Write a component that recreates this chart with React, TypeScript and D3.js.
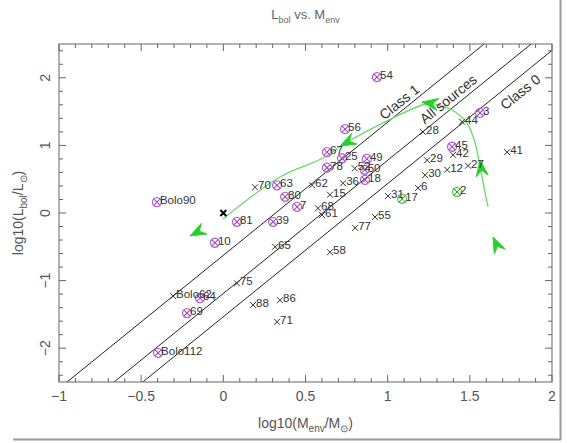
import React, { useEffect, useRef } from 'react';
import * as d3 from 'd3';

// sources plotted as plain crosses
const crossPoints = [
  { label: '44', x: 1.453, y: 1.35 },
  { label: '28', x: 1.215, y: 1.2 },
  { label: '42', x: 1.398, y: 0.86 },
  { label: '29', x: 1.24, y: 0.78 },
  { label: '41', x: 1.727, y: 0.9 },
  { label: '27', x: 1.489, y: 0.7 },
  { label: '12', x: 1.362, y: 0.64 },
  { label: '30', x: 1.228, y: 0.56 },
  { label: '6', x: 1.185, y: 0.37 },
  { label: '31', x: 1.002, y: 0.25 },
  { label: '62', x: 0.54, y: 0.41 },
  { label: '36', x: 0.729, y: 0.44 },
  { label: '52', x: 0.8, y: 0.66 },
  { label: '15', x: 0.649, y: 0.27 },
  { label: '68', x: 0.576, y: 0.07 },
  { label: '61', x: 0.601, y: -0.03 },
  { label: '55', x: 0.923, y: -0.06 },
  { label: '77', x: 0.802, y: -0.22 },
  { label: '58', x: 0.649, y: -0.58 },
  { label: '70', x: 0.193, y: 0.38 },
  { label: '65', x: 0.315, y: -0.5 },
  { label: '75', x: 0.083, y: -1.04 },
  { label: 'Bolo62', x: -0.306, y: -1.23 },
  { label: '88', x: 0.181, y: -1.36 },
  { label: '86', x: 0.345, y: -1.29 },
  { label: '71', x: 0.327, y: -1.61 },
];

// sources with a circled cross (purple)
const purplePoints = [
  { label: '54', x: 0.935, y: 2.01 },
  { label: '56', x: 0.741, y: 1.24 },
  { label: '67', x: 0.631, y: 0.9 },
  { label: '25', x: 0.722, y: 0.81 },
  { label: '49', x: 0.874, y: 0.8 },
  { label: '78', x: 0.631, y: 0.67 },
  { label: '50', x: 0.86, y: 0.64 },
  { label: '18', x: 0.862, y: 0.49 },
  { label: '80', x: 0.376, y: 0.24 },
  { label: '7', x: 0.449, y: 0.09 },
  { label: '63', x: 0.327, y: 0.41 },
  { label: '39', x: 0.303, y: -0.13 },
  { label: '81', x: 0.083, y: -0.13 },
  { label: '10', x: -0.051, y: -0.44 },
  { label: 'Bolo90', x: -0.404, y: 0.16 },
  { label: '64', x: -0.142, y: -1.26 },
  { label: '69', x: -0.221, y: -1.48 },
  { label: 'Bolo112', x: -0.397, y: -2.07 },
  { label: '3', x: 1.562, y: 1.48 },
  { label: '45', x: 1.392, y: 0.98 },
];

// sources with a green circled cross
const greenPoints = [
  { label: '2', x: 1.422, y: 0.31 },
  { label: '17', x: 1.088, y: 0.21 },
];

const sunPoint = [{ x: 0, y: 0 }];

// fitted relations: log L = slope * log M + intercept
const lineSlope = 1.97;
const lineIntercepts = [-0.626, -1.19, -1.535];
const lineNames = ['Class 1', 'All sources', 'Class 0'];
const lineLabelX = [1.075, 1.374, 1.812];
const lineLabelY = [1.627, 1.672, 1.775];

// evolutionary track (green)
const trackX = [1.611, 1.593, 1.562, 1.532, 1.483, 1.392, 1.301, 1.258, 0.753, 0.607, 0.345, -0.002];
const trackY = [0.089, 0.296, 0.68, 1.036, 1.331, 1.524, 1.598, 1.627, 1.05, 0.814, 0.533, -0.089];

// arrow heads: tip and the point they come from
const arrowTipX = [-0.203, 0.71, 1.209, 1.562, 1.641];
const arrowTipY = [-0.34, 0.99, 1.642, 0.784, -0.355];
const arrowFromX = [-0.002, 0.83, 1.32, 1.575, 1.684];
const arrowFromY = [-0.089, 1.14, 1.6, 0.56, -0.58];

const xTicks = [-1, -0.5, 0, 0.5, 1, 1.5, 2];
const yTicks = [-2, -1, 0, 1, 2];

const FONT = "'Liberation Sans', Arial, Helvetica, sans-serif";

const App = () => {
  const svgRef = useRef<SVGSVGElement>(null);

  useEffect(() => {
    const svg = d3.select(svgRef.current);
    svg.selectAll('*').remove();

    const left = 59, right = 552, top = 44, bottom = 382;
    const x = d3.scaleLinear().domain([-1, 2]).range([left, right]);
    const y = d3.scaleLinear().domain([-2.5, 2.5]).range([bottom, top]);

    svg.append('rect').attr('width', 567).attr('height', 443).attr('fill', '#fff');

    // grey picture border
    svg.append('line').attr('x1', 13).attr('x2', 561).attr('y1', 439.5).attr('y2', 439.5)
      .attr('stroke', '#9a9a9a').attr('stroke-width', 2);
    svg.append('line').attr('x1', 560.5).attr('x2', 560.5).attr('y1', 0).attr('y2', 440)
      .attr('stroke', '#9a9a9a').attr('stroke-width', 2);

    svg.append('defs').append('clipPath').attr('id', 'plotclip')
      .append('rect').attr('x', left).attr('y', top).attr('width', right - left).attr('height', bottom - top);

    const plot = svg.append('g').attr('clip-path', 'url(#plotclip)');

    // relation lines
    lineIntercepts.forEach(b => {
      plot.append('line')
        .attr('x1', x(-1)).attr('y1', y(lineSlope * -1 + b))
        .attr('x2', x(2)).attr('y2', y(lineSlope * 2 + b))
        .attr('stroke', '#222').attr('stroke-width', 1);
    });

    const angle = -Math.atan(lineSlope * (y(0) - y(1)) / (x(1) - x(0))) * 180 / Math.PI;
    lineNames.forEach((name, i) => {
      svg.append('text')
        .attr('transform', `translate(${x(lineLabelX[i])},${y(lineLabelY[i])}) rotate(${angle})`)
        .attr('text-anchor', 'middle').attr('dominant-baseline', 'middle')
        .attr('font-family', FONT).attr('font-size', 14).attr('fill', '#333')
        .text(name);
    });

    // green track
    const track = trackX.map((v, i) => [v, trackY[i]] as [number, number]);
    plot.append('path')
      .attr('d', d3.line<[number, number]>().x(d => x(d[0])).y(d => y(d[1])).curve(d3.curveCatmullRom)(track))
      .attr('fill', 'none').attr('stroke', '#6ad86a').attr('stroke-width', 1.3);

    arrowTipX.forEach((tx, i) => {
      const px = x(tx), py = y(arrowTipY[i]);
      const fx = x(arrowFromX[i]), fy = y(arrowFromY[i]);
      const len = Math.hypot(px - fx, py - fy);
      const ux = (px - fx) / len, uy = (py - fy) / len;
      const nx = -uy, ny = ux;
      const L = 16, W = 6;
      const pts = [
        [px, py],
        [px - L * ux + W * nx, py - L * uy + W * ny],
        [px - 0.65 * L * ux, py - 0.65 * L * uy],
        [px - L * ux - W * nx, py - L * uy - W * ny],
      ];
      plot.append('path').attr('d', 'M' + pts.map(p => p.join(',')).join('L') + 'Z')
        .attr('fill', '#2bcf2b').attr('stroke', '#2bcf2b').attr('stroke-width', 1);
    });

    const crossPath = (s: number) => `M${-s},${-s}L${s},${s}M${-s},${s}L${s},${-s}`;

    // purple circled crosses
    const purple = plot.selectAll('.pp').data(purplePoints).enter().append('g')
      .attr('transform', d => `translate(${x(d.x)},${y(d.y)})`);
    purple.append('circle').attr('r', 4.5).attr('fill', 'none').attr('stroke', '#b264d2').attr('stroke-width', 1.3);
    purple.append('path').attr('d', crossPath(3.2)).attr('stroke', '#9a4cbc').attr('stroke-width', 1.1);

    // green circled crosses
    const green = plot.selectAll('.gp').data(greenPoints).enter().append('g')
      .attr('transform', d => `translate(${x(d.x)},${y(d.y)})`);
    green.append('circle').attr('r', 4.5).attr('fill', 'none').attr('stroke', '#5ccc5c').attr('stroke-width', 1.4);
    green.append('path').attr('d', crossPath(3.5)).attr('stroke', '#2f8f2f').attr('stroke-width', 1);

    // crosses
    plot.selectAll('.cp').data(crossPoints).enter().append('path')
      .attr('transform', d => `translate(${x(d.x)},${y(d.y)})`)
      .attr('d', crossPath(3))
      .attr('stroke', '#333').attr('stroke-width', 1);

    // the sun
    plot.selectAll('.sun').data(sunPoint).enter().append('path')
      .attr('transform', d => `translate(${x(d.x)},${y(d.y)})`)
      .attr('d', crossPath(3))
      .attr('stroke', '#000').attr('stroke-width', 2);

    // labels
    const allLabels = [...crossPoints, ...purplePoints, ...greenPoints];
    plot.selectAll('.lbl').data(allLabels).enter().append('text')
      .attr('x', d => x(d.x) + 3)
      .attr('y', d => y(d.y) + 2)
      .attr('font-family', FONT).attr('font-size', 11.5).attr('fill', '#333')
      .text(d => d.label);

    // frame
    svg.append('rect').attr('x', left).attr('y', top).attr('width', right - left).attr('height', bottom - top)
      .attr('fill', 'none').attr('stroke', '#666').attr('stroke-width', 1);

    // ticks, all inward on four sides
    const tickG = svg.append('g').attr('stroke', '#666').attr('stroke-width', 1);
    d3.range(-10, 21).forEach(k => {
      const v = k / 10;
      const major = k % 5 === 0;
      const len = major ? 7 : 4;
      const px = x(v);
      tickG.append('line').attr('x1', px).attr('x2', px).attr('y1', bottom).attr('y2', bottom - len);
      tickG.append('line').attr('x1', px).attr('x2', px).attr('y1', top).attr('y2', top + len);
    });
    d3.range(-12, 13).forEach(k => {
      const v = k / 5;
      const major = k % 5 === 0;
      const len = major ? 7 : 4;
      const py = y(v);
      tickG.append('line').attr('x1', left).attr('x2', left + len).attr('y1', py).attr('y2', py);
      tickG.append('line').attr('x1', right).attr('x2', right - len).attr('y1', py).attr('y2', py);
    });

    // tick labels
    svg.selectAll('.xt').data(xTicks).enter().append('text')
      .attr('x', d => x(d)).attr('y', bottom + 19)
      .attr('text-anchor', 'middle').attr('font-family', FONT).attr('font-size', 14).attr('fill', '#555')
      .text(d => (d < 0 ? '\u2212' + Math.abs(d) : String(d)));
    svg.selectAll('.yt').data(yTicks).enter().append('text')
      .attr('transform', d => `translate(${left - 9},${y(d)}) rotate(-90)`)
      .attr('text-anchor', 'middle').attr('font-family', FONT).attr('font-size', 14).attr('fill', '#555')
      .text(d => (d < 0 ? '\u2212' + Math.abs(d) : String(d)));

    // title
    const title = svg.append('text').attr('x', (left + right) / 2).attr('y', 19)
      .attr('text-anchor', 'middle').attr('font-family', FONT).attr('font-size', 13).attr('fill', '#666');
    title.append('tspan').text('L');
    title.append('tspan').attr('font-size', 9).attr('dy', 4).text('bol');
    title.append('tspan').attr('dy', -4).text(' vs.  M');
    title.append('tspan').attr('font-size', 9).attr('dy', 4).text('env');

    // x label
    const xl = svg.append('text').attr('x', (left + right) / 2).attr('y', 428)
      .attr('text-anchor', 'middle').attr('font-family', FONT).attr('font-size', 14).attr('fill', '#555');
    xl.append('tspan').text('log10(M');
    xl.append('tspan').attr('font-size', 10).attr('dy', 4).text('env');
    xl.append('tspan').attr('dy', -4).text('/M');
    xl.append('tspan').attr('font-size', 10).attr('dy', 4).text('\u2299');
    xl.append('tspan').attr('dy', -4).text(')');

    // y label
    const yl = svg.append('text').attr('transform', `translate(23,${(top + bottom) / 2}) rotate(-90)`)
      .attr('text-anchor', 'middle').attr('font-family', FONT).attr('font-size', 14).attr('fill', '#555');
    yl.append('tspan').text('log10(L');
    yl.append('tspan').attr('font-size', 10).attr('dy', 4).text('bol');
    yl.append('tspan').attr('dy', -4).text('/L');
    yl.append('tspan').attr('font-size', 10).attr('dy', 4).text('\u2299');
    yl.append('tspan').attr('dy', -4).text(')');
  }, []);

  return (
    <svg ref={svgRef} width={567} height={443}
      style={{ position: 'absolute', left: 0, top: 0, display: 'block' }} />
  );
};

export default App;
